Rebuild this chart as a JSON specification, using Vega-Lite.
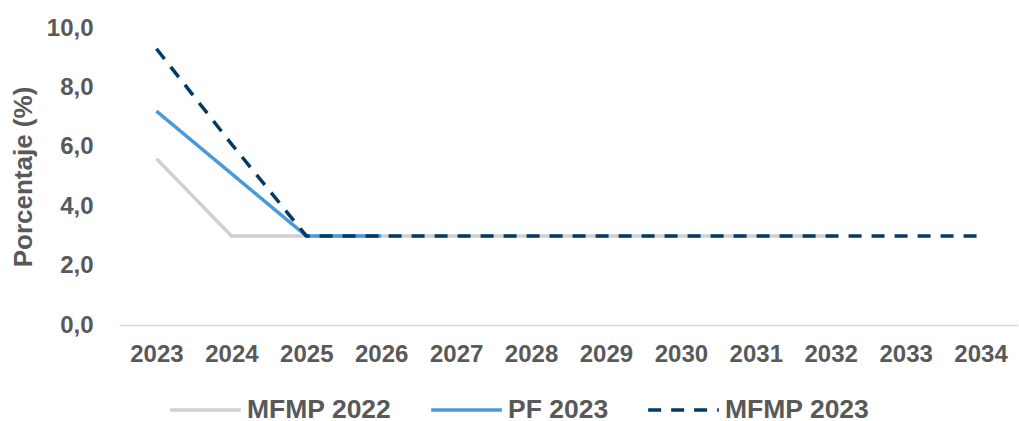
{
  "$schema": "https://vega.github.io/schema/vega-lite/v6.json",
  "width": 899,
  "height": 297,
  "autosize": {"type": "none"},
  "padding": {"left": 119, "top": 28, "right": 1, "bottom": 96},
  "background": "white",
  "config": {"view": {"stroke": null}, "font": "Liberation Sans"},
  "data": {
    "values": [
      {"series": "MFMP 2022", "year": "2023", "value": 5.6},
      {"series": "MFMP 2022", "year": "2024", "value": 3.0},
      {"series": "MFMP 2022", "year": "2025", "value": 3.0},
      {"series": "MFMP 2022", "year": "2026", "value": 3.0},
      {"series": "MFMP 2022", "year": "2027", "value": 3.0},
      {"series": "MFMP 2022", "year": "2028", "value": 3.0},
      {"series": "MFMP 2022", "year": "2029", "value": 3.0},
      {"series": "MFMP 2022", "year": "2030", "value": 3.0},
      {"series": "MFMP 2022", "year": "2031", "value": 3.0},
      {"series": "MFMP 2022", "year": "2032", "value": 3.0},
      {"series": "PF 2023", "year": "2023", "value": 7.2},
      {"series": "PF 2023", "year": "2024", "value": 5.1},
      {"series": "PF 2023", "year": "2025", "value": 3.0},
      {"series": "PF 2023", "year": "2026", "value": 3.0},
      {"series": "MFMP 2023", "year": "2023", "value": 9.3},
      {"series": "MFMP 2023", "year": "2024", "value": 6.1},
      {"series": "MFMP 2023", "year": "2025", "value": 3.0},
      {"series": "MFMP 2023", "year": "2026", "value": 3.0},
      {"series": "MFMP 2023", "year": "2027", "value": 3.0},
      {"series": "MFMP 2023", "year": "2028", "value": 3.0},
      {"series": "MFMP 2023", "year": "2029", "value": 3.0},
      {"series": "MFMP 2023", "year": "2030", "value": 3.0},
      {"series": "MFMP 2023", "year": "2031", "value": 3.0},
      {"series": "MFMP 2023", "year": "2032", "value": 3.0},
      {"series": "MFMP 2023", "year": "2033", "value": 3.0},
      {"series": "MFMP 2023", "year": "2034", "value": 3.0}
    ]
  },
  "mark": {"type": "line", "strokeWidth": 3.5, "strokeCap": "butt"},
  "encoding": {
    "x": {
      "field": "year",
      "type": "ordinal",
      "scale": {"type": "point", "padding": 0.5},
      "axis": {
        "title": null,
        "labelAngle": 0,
        "ticks": false,
        "grid": false,
        "domainColor": "#D9D9D9",
        "domainWidth": 1.5,
        "labelFontSize": 24,
        "labelFontWeight": "bold",
        "labelColor": "#595959",
        "labelPadding": 17
      }
    },
    "y": {
      "field": "value",
      "type": "quantitative",
      "scale": {"domain": [0, 10]},
      "axis": {
        "title": "Porcentaje (%)",
        "values": [0, 2, 4, 6, 8, 10],
        "labelExpr": "replace(format(datum.value,'.1f'),'.',',')",
        "grid": false,
        "domain": false,
        "ticks": false,
        "labelFontSize": 24,
        "labelFontWeight": "bold",
        "labelColor": "#595959",
        "labelPadding": 26,
        "titleFontSize": 26,
        "titleFontWeight": "bold",
        "titleColor": "#595959",
        "titlePadding": 10
      }
    },
    "color": {
      "field": "series",
      "type": "nominal",
      "scale": {"domain": ["MFMP 2022", "PF 2023", "MFMP 2023"], "range": ["#D0D0D0", "#4A9ADA", "#003B66"]},
      "legend": {
        "title": null,
        "orient": "none",
        "direction": "horizontal",
        "legendX": 49,
        "legendY": 364,
        "padding": 0,
        "clipHeight": 36,
        "symbolType": "stroke",
        "symbolSize": 5000,
        "symbolStrokeWidth": 3.5,
        "labelFontSize": 26.5,
        "labelFontWeight": "bold",
        "labelColor": "#595959",
        "labelOffset": 4,
        "columnPadding": 37
      }
    },
    "strokeDash": {
      "field": "series",
      "type": "nominal",
      "scale": {"domain": ["MFMP 2022", "PF 2023", "MFMP 2023"], "range": [[1, 0], [1, 0], [13, 10]]},
      "legend": {
        "title": null,
        "orient": "none",
        "direction": "horizontal",
        "legendX": 49,
        "legendY": 364,
        "padding": 0,
        "clipHeight": 36,
        "symbolType": "stroke",
        "symbolSize": 5000,
        "symbolStrokeWidth": 3.5,
        "labelFontSize": 26.5,
        "labelFontWeight": "bold",
        "labelColor": "#595959",
        "labelOffset": 4,
        "columnPadding": 37
      }
    }
  }
}
